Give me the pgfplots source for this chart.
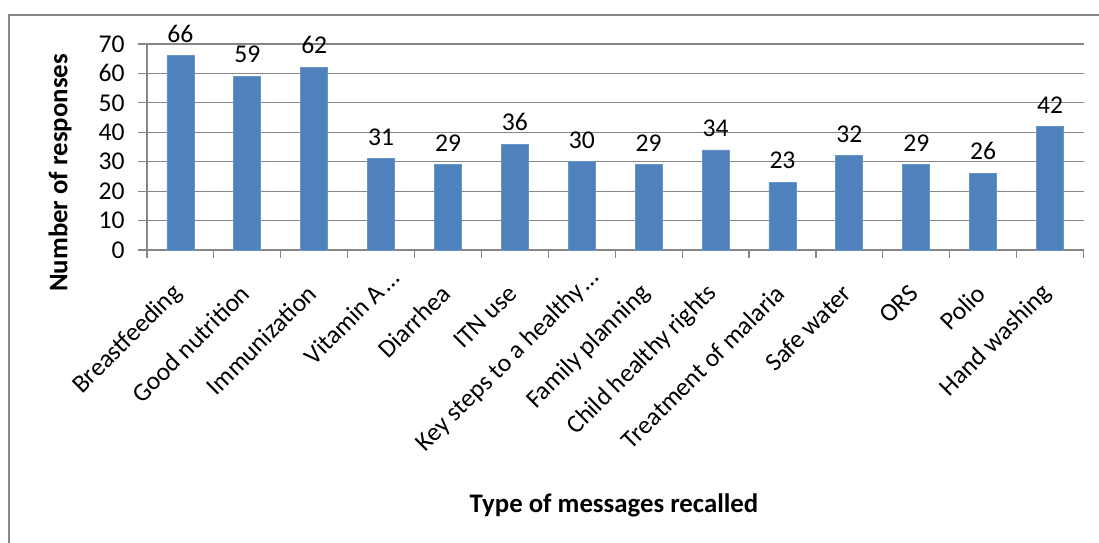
\documentclass[border=0pt]{standalone}
\usepackage{fontspec}
\setmainfont{Carlito}
\usepackage{pgfplots}
\pgfplotsset{compat=1.18}
\definecolor{barblue}{HTML}{4F81BD}
\definecolor{gridgray}{HTML}{868686}
\newcommand{\lblfont}{\fontsize{12.8}{15}\selectfont}
\newcommand{\ttlfont}{\fontsize{13.4}{16}\selectfont\bfseries}
% truncated category names end in a spaced ellipsis
\newcommand{\trunc}[1]{#1\kern1.5pt…\kern-11pt}

\begin{document}
\begin{tikzpicture}[x=1pt,y=1pt]
% page extent and chart frame
\useasboundingbox (-73.5,-146) rectangle (476,125);
\draw[gridgray, line width=0.8pt] (-69,-400) rectangle (800,117.5);
\begin{axis}[
  at={(0,0)}, anchor=south west,
  scale only axis, width=468.25pt, height=103pt,
  xmin=-0.5, xmax=13.5, ymin=0, ymax=70,
  ytick={0,10,...,70},
  ymajorgrids, grid style={gridgray, line width=0.6pt},
  axis x line*=bottom, axis y line*=left,
  axis line style={gridgray, line width=0.6pt},
  tick align=outside,
  xtick={0,...,13},
  xticklabels={Breastfeeding, Good nutrition, Immunization, \trunc{Vitamin A}, Diarrhea, ITN use, \trunc{Key steps to a healthy}, Family planning, Child healthy rights, Treatment of malaria, Safe water, ORS, Polio, Hand washing},
  major x tick style={draw=none},
  minor xtick={-0.5,0.5,...,13.5},
  minor x tick style={gridgray, line width=0.6pt},
  minor tick length=4pt,
  major tick length=4.5pt,
  ytick style={gridgray, line width=0.6pt},
  /pgf/number format/assume math mode=true,
  yticklabel style={font=\lblfont, anchor=east, inner sep=0pt, xshift=-6.5pt},
  xticklabel style={font=\lblfont, inner sep=0pt, xshift=-1pt, yshift=-15pt, rotate=45, anchor=east},
  ybar, bar width=13.5pt,
  nodes near coords,
  every node near coord/.append style={font=\lblfont, text=black, anchor=south, inner sep=0pt, yshift=6.5pt},
  xlabel={Type of messages recalled},
  ylabel={Number of responses},
  every axis x label/.style={at={(axis description cs:0.4987,-1.238)}, anchor=center, font=\ttlfont},
  every axis y label/.style={at={(axis description cs:-0.0929,0.374)}, rotate=90, anchor=center, font=\ttlfont},
]
\addplot[fill=barblue, draw=barblue!85!white, line width=0.4pt] coordinates {
  (0,66) (1,59) (2,62) (3,31) (4,29) (5,36) (6,30)
  (7,29) (8,34) (9,23) (10,32) (11,29) (12,26) (13,42)
};
\end{axis}
\end{tikzpicture}
\end{document}
